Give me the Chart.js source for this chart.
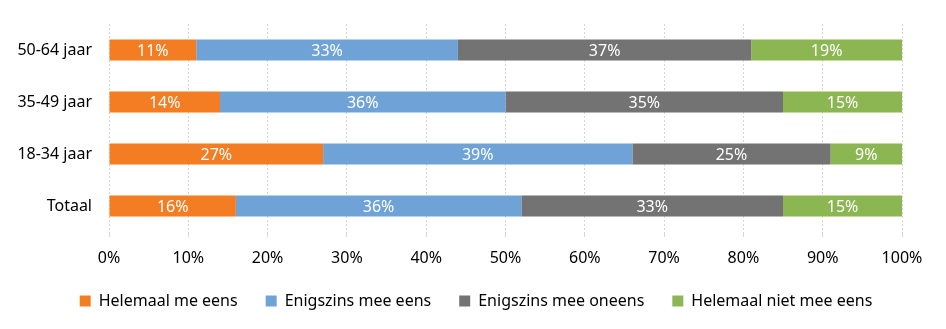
<!DOCTYPE html>
<html>
<head>
<meta charset="utf-8">
<script src="https://cdn.jsdelivr.net/npm/chart.js@4"></script>
<style>
  html, body { margin: 0; padding: 0; background: #fff; }
  #wrap { width: 946px; height: 329px; }
</style>
</head>
<body>
<div id="wrap"><canvas id="chart" width="946" height="329"></canvas></div>
<script>
const categories = ['50-64 jaar', '35-49 jaar', '18-34 jaar', 'Totaal'];
const seriesNames = ['Helemaal me eens', 'Enigszins mee eens', 'Enigszins mee oneens', 'Helemaal niet mee eens'];
const helemaalEens = [11, 14, 27, 16];
const enigszinsEens = [33, 36, 39, 36];
const enigszinsOneens = [37, 35, 25, 33];
const helemaalNiet = [19, 15, 9, 15];
const xTicks = [0, 10, 20, 30, 40, 50, 60, 70, 80, 90, 100];

const colors = ['#F47D23', '#6FA3D8', '#737373', '#8CB651'];
const fontFamily = '"Noto Sans", sans-serif';
const fontSize = 16;

// simple inline label plugin: percentage in the middle of every segment
const barLabels = {
  id: 'barLabels',
  afterDatasetsDraw(chart) {
    const ctx = chart.ctx;
    ctx.save();
    ctx.fillStyle = '#ffffff';
    ctx.font = fontSize + 'px ' + fontFamily;
    ctx.textAlign = 'center';
    ctx.textBaseline = 'middle';
    chart.data.datasets.forEach((ds, i) => {
      chart.getDatasetMeta(i).data.forEach((bar, j) => {
        const cx = (bar.x + bar.base) / 2;
        ctx.fillText(ds.data[j] + '%', cx, bar.y + 1);
      });
    });
    ctx.restore();
  },
};

// centre the legend on the whole canvas instead of the padded area
const legendShift = {
  id: 'legendShift',
  afterLayout(chart) {
    const lg = chart.legend;
    if (!lg) return;
    lg.left += 25;
    lg.right += 25;
  },
};

const seriesData = [helemaalEens, enigszinsEens, enigszinsOneens, helemaalNiet];

new Chart(document.getElementById('chart'), {
  type: 'bar',
  data: {
    labels: categories,
    datasets: seriesNames.map((name, i) => ({
      label: name,
      data: seriesData[i],
      backgroundColor: colors[i],
      borderWidth: 0,
      barPercentage: 0.8,
      categoryPercentage: 0.5,
    })),
  },
  options: {
    indexAxis: 'y',
    responsive: false,
    animation: false,
    layout: { padding: { top: 24, right: 44, left: 0, bottom: 10 } },
    scales: {
      x: {
        stacked: true,
        min: 0,
        max: 100,
        afterBuildTicks: (scale) => { scale.ticks = xTicks.map((v) => ({ value: v })); },
        ticks: {
          callback: (v) => v + '%',
          color: '#000000',
          font: { family: fontFamily, size: fontSize },
          padding: 12,
          maxRotation: 0,
        },
        grid: { color: '#d6d6d6', tickLength: 5, tickColor: '#d6d6d6' },
        border: { display: false, dash: [2, 2] },
        afterFit: (scale) => { scale.height = 33; },
      },
      y: {
        stacked: true,
        ticks: {
          color: '#000000',
          font: { family: fontFamily, size: fontSize },
          padding: 9,
        },
        grid: { display: false },
        border: { display: false },
        afterFit: (scale) => { scale.width = 109; },
      },
    },
    plugins: {
      legend: {
        position: 'bottom',
        labels: {
          boxWidth: 11,
          boxHeight: 11,
          padding: 28,
          color: '#000000',
          font: { family: fontFamily, size: fontSize },
        },
      },
      tooltip: { enabled: false },
    },
  },
  plugins: [barLabels, legendShift],
});
</script>
</body>
</html>
